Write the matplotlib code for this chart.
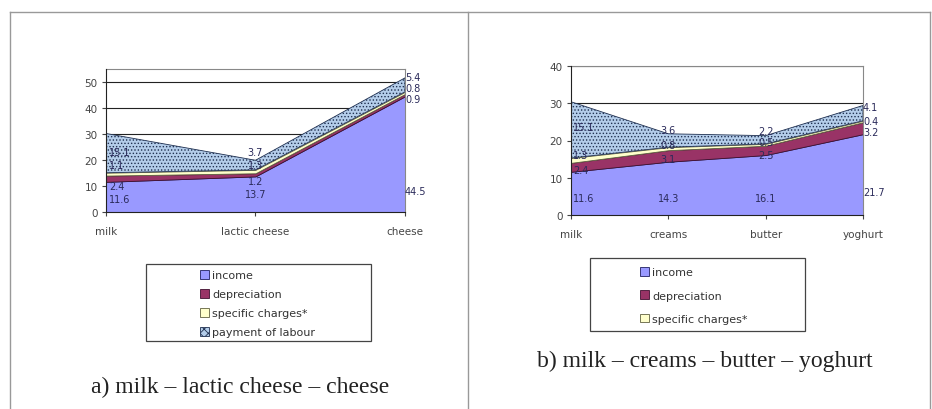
import numpy as np
import matplotlib.pyplot as plt
from matplotlib.patches import Patch, Rectangle
from matplotlib.lines import Line2D

# Chart a) milk - lactic cheese - cheese
cat_a = ['milk', 'lactic cheese', 'cheese']
income_a = [11.6, 13.7, 44.5]
deprec_a = [2.4, 1.2, 0.9]
charges_a = [1.1, 1.3, 0.8]
labour_a = [15.1, 3.7, 5.4]

# Chart b) milk - creams - butter - yoghurt
cat_b = ['milk', 'creams', 'butter', 'yoghurt']
income_b = [11.6, 14.3, 16.1, 21.7]
deprec_b = [2.4, 3.1, 2.5, 3.2]
charges_b = [1.3, 0.8, 0.5, 0.4]
labour_b = [15.1, 3.6, 2.2, 4.1]

series_names = ['income', 'depreciation', 'specific charges*', 'payment of labour']

# vertical spots of the value labels (data units), one row per series
lab_y_a = [[5, 7, 8], [10, 12, 43.6], [18, 18, 47.6], [23, 23, 51.8]]
lab_y_b = [[4.6, 4.6, 4.6, 6.2], [12, 15, 16, 22.3], [16, 18.7, 19.5, 25.2], [23.5, 22.8, 22.5, 29.0]]

W, H = 932, 410
C_INC = '#9999ff'
C_DEP = '#993366'
C_SPC = '#ffffcc'
C_LAB = '#b4cdea'
plt.rcParams['hatch.color'] = '#8090b8'
plt.rcParams['hatch.linewidth'] = 0.6


def fbox(l, t, r, b):
    return [l / W, (H - b) / H, (r - l) / W, (b - t) / H]


def area_chart(ax, cats, stack, labpos, ymax):
    x = np.arange(len(cats))
    styles = [dict(facecolor=C_INC, edgecolor='#202060'),
              dict(facecolor=C_DEP, edgecolor='#401030'),
              dict(facecolor=C_SPC, edgecolor='#606040'),
              dict(facecolor=C_LAB, edgecolor='#203050', hatch='.....')]
    base = np.zeros(len(cats))
    for vals, st in zip(stack, styles):
        top = base + np.array(vals)
        ax.fill_between(x, base, top, linewidth=0.6, zorder=2, **st)
        base = top
    # data labels
    n = len(cats)
    for vals, ys in zip(stack, labpos):
        for i, (v, yy) in enumerate(zip(vals, ys)):
            if i == 0:
                ha, dx = 'left', 0.02
            elif i == n - 1:
                ha, dx = 'left', 0.0
            else:
                ha, dx = 'center', 0
            ax.text(i + dx, yy, str(v), ha=ha, va='center', fontsize=7,
                    color='#2a2a5a', zorder=5, clip_on=False)
    ax.set_xlim(0, n - 1)
    ax.set_ylim(0, ymax)
    ax.set_yticks(np.arange(0, ymax + 0.1, 10) if ymax % 10 == 0 else np.arange(0, ymax, 10))
    ax.set_xticks(x)
    ax.set_xticklabels(cats)
    for yv in ax.get_yticks()[1:]:
        ax.axhline(yv, color='#222222', linewidth=0.8, zorder=1)
    ax.tick_params(labelsize=7.5, colors='#444444', length=3, width=0.8, pad=3)
    ax.tick_params(axis='x', pad=7)
    for s in ['left', 'bottom']:
        ax.spines[s].set_color('#222222')
        ax.spines[s].set_zorder(4)
    for s in ['top', 'right']:
        ax.spines[s].set_color('#888888')
    ax.set_facecolor('white')


def legend_block(fig, n_items, box, anchor, spacing):
    l, t, r, b = box
    fig.add_artist(Rectangle((l / W, (H - b) / H), (r - l) / W, (b - t) / H,
                             transform=fig.transFigure, fill=False,
                             edgecolor='#444444', linewidth=0.9))
    handles = [Patch(facecolor=C_INC, edgecolor='#202060', linewidth=0.6),
               Patch(facecolor=C_DEP, edgecolor='#401030', linewidth=0.6),
               Patch(facecolor=C_SPC, edgecolor='#606040', linewidth=0.6),
               Patch(facecolor=C_LAB, edgecolor='#203050', linewidth=0.6, hatch='xxxx')][:n_items]
    fig.legend(handles, series_names[:n_items], loc='upper left',
               bbox_to_anchor=(anchor[0] / W, (H - anchor[1]) / H),
               frameon=False, fontsize=8, handlelength=0.8, handleheight=0.8,
               handletextpad=0.3, labelspacing=spacing, borderpad=0, borderaxespad=0,
               labelcolor='#333333')


fig = plt.figure(figsize=(W / 100, H / 100), dpi=100)

ax1 = fig.add_axes(fbox(106, 70, 405, 213))
area_chart(ax1, cat_a, [income_a, deprec_a, charges_a, labour_a], lab_y_a, 55)
ax2 = fig.add_axes(fbox(571, 67, 863, 216))
area_chart(ax2, cat_b, [income_b, deprec_b, charges_b, labour_b], lab_y_b, 40)

legend_block(fig, 4, (146, 265, 371, 342), (200, 271), 0.8)
legend_block(fig, 3, (590, 259, 805, 332), (640, 268), 1.2)

fig.text(240 / W, (H - 387) / H, 'a) milk – lactic cheese – cheese', ha='center',
         va='center', fontsize=17, family='Liberation Serif', color='#222222')
fig.text(705 / W, (H - 361) / H, 'b) milk – creams – butter – yoghurt', ha='center',
         va='center', fontsize=17, family='Liberation Serif', color='#222222')

# table frame around the two panels
for (x0, y0, x1, y1) in [(10, 13, 930, 13), (10, 13, 10, 410),
                         (468, 13, 468, 410), (930, 13, 930, 410)]:
    fig.add_artist(Line2D([x0 / W, x1 / W], [(H - y0) / H, (H - y1) / H],
                          transform=fig.transFigure, color='#999999', linewidth=1.0))

fig.savefig('out.png', dpi=100)
